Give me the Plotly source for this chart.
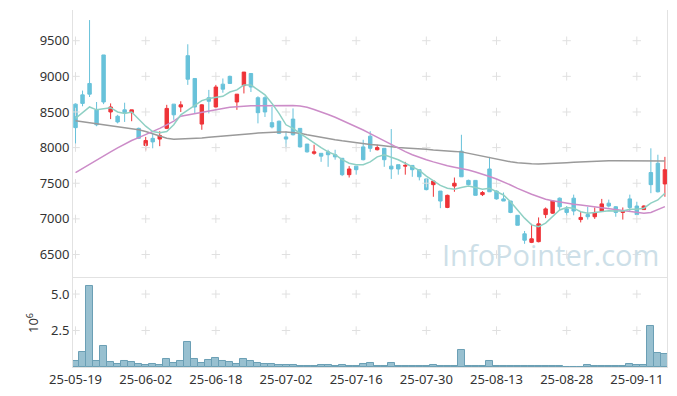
import plotly.graph_objects as go

dates = [
    "2025-05-19","2025-05-20","2025-05-21","2025-05-22","2025-05-23","2025-05-26","2025-05-27","2025-05-28","2025-05-29","2025-05-30",
    "2025-06-02","2025-06-04","2025-06-05","2025-06-09","2025-06-10","2025-06-11","2025-06-12","2025-06-13","2025-06-16","2025-06-17",
    "2025-06-18","2025-06-19","2025-06-20","2025-06-23","2025-06-24","2025-06-25","2025-06-26","2025-06-27","2025-06-30","2025-07-01",
    "2025-07-02","2025-07-03","2025-07-04","2025-07-07","2025-07-08","2025-07-09","2025-07-10","2025-07-11","2025-07-14","2025-07-15",
    "2025-07-16","2025-07-17","2025-07-18","2025-07-21","2025-07-22","2025-07-23","2025-07-24","2025-07-25","2025-07-28","2025-07-29",
    "2025-07-30","2025-07-31","2025-08-01","2025-08-04","2025-08-05","2025-08-06","2025-08-07","2025-08-08","2025-08-11","2025-08-12",
    "2025-08-13","2025-08-14","2025-08-18","2025-08-19","2025-08-20","2025-08-21","2025-08-22","2025-08-25","2025-08-26","2025-08-27",
    "2025-08-28","2025-08-29","2025-09-01","2025-09-02","2025-09-03","2025-09-04","2025-09-05","2025-09-08","2025-09-09","2025-09-10",
    "2025-09-11","2025-09-12","2025-09-15","2025-09-16","2025-09-17",
]

open_ = [8610,8740,8900,8530,9300,8500,8440,8530,8490,8270,
         8030,8130,8120,8270,8610,8570,9290,8970,8330,8700,
         8570,8890,9000,8640,8870,9040,8700,8700,8350,8370,
         8150,8400,8270,8050,7920,7920,7940,7900,7850,7620,
         7740,8010,8160,7970,7990,7740,7760,7740,7750,7690,
         7560,7480,7390,7160,7460,7950,7540,7540,7340,7700,
         7390,7280,7250,7050,6790,6670,6680,7060,7080,7290,
         7140,7290,6990,7060,7030,7110,7220,7170,7090,7280,
         7180,7130,7650,7780,7490]
high_ = [8620,8800,9790,8640,9300,8620,8460,8630,8530,8280,
         8150,8200,8230,8600,8610,8650,9450,8970,8610,8810,
         8880,8970,9010,8750,9060,9040,8720,8720,8570,8380,
         8230,8550,8270,8050,8040,7920,7970,7970,7850,7740,
         7740,8110,8230,8040,7990,8260,7760,7800,7750,7690,
         7560,7530,7390,7340,7580,8180,7550,7540,7390,7870,
         7400,7370,7250,7050,6830,6930,7020,7160,7260,7300,
         7180,7340,7100,7170,7160,7280,7270,7180,7160,7340,
         7240,7190,7990,7900,7870]
low_ = [8020,8580,8710,8300,8610,8400,8340,8360,8370,8120,
        7960,7990,8020,8260,8390,8500,8880,8480,8250,8480,
        8560,8770,8900,8530,8760,8780,8340,8430,8270,8190,
        7990,8170,8000,7930,7900,7800,7730,7830,7600,7580,
        7620,7820,7940,7960,7730,7560,7620,7620,7590,7540,
        7400,7310,7150,7150,7380,7590,7470,7330,7320,7380,
        7270,7250,7080,6910,6650,6660,6670,7010,7070,7120,
        7040,7050,6950,6990,7000,7100,7160,7030,6990,7100,
        7060,7130,7360,7370,7310]
close_ = [8280,8620,8750,8320,8640,8570,8360,8490,8530,8130,
          8100,8080,8170,8550,8460,8600,8960,8570,8600,8650,
          8850,8820,8900,8750,9060,8850,8490,8500,8290,8200,
          8120,8180,8010,7940,7940,7880,7900,7870,7620,7700,
          7690,7830,7990,8000,7830,7700,7700,7750,7690,7590,
          7410,7530,7250,7330,7500,7590,7480,7330,7370,7380,
          7280,7250,7090,6910,6700,6720,6930,7140,7250,7170,
          7090,7110,7020,7030,7090,7210,7180,7090,7110,7160,
          7060,7180,7480,7380,7690]

ma5 = [8410,8490,8570,8530,8540,8560,8500,8480,8500,8400,
       8300,8225,8210,8225,8320,8460,8530,8600,8660,8690,
       8710,8720,8780,8810,8880,8880,8810,8740,8620,8480,
       8320,8270,8200,8130,8060,8000,7940,7900,7830,7780,
       7760,7760,7800,7870,7900,7870,7830,7780,7730,7680,
       7600,7530,7470,7430,7415,7440,7460,7440,7415,7430,
       7380,7335,7240,7125,7010,6915,6890,6940,7030,7125,
       7160,7150,7100,7080,7090,7100,7115,7110,7110,7135,
       7135,7150,7220,7265,7360]
ma20 = [7650,7710,7770,7830,7885,7940,7995,8050,8100,8140,
        8180,8225,8270,8320,8370,8440,8460,8480,8500,8520,
        8540,8550,8565,8575,8585,8586,8587,8589,8590,8592,
        8592,8590,8585,8566,8535,8504,8465,8425,8383,8341,
        8294,8247,8196,8145,8090,8037,7990,7943,7900,7862,
        7830,7800,7770,7745,7725,7709,7685,7658,7630,7595,
        7560,7522,7475,7428,7382,7345,7310,7275,7255,7235,
        7219,7205,7193,7181,7167,7153,7139,7126,7113,7101,
        7090,7079,7090,7125,7171]
ma60 = [8378,8365,8350,8335,8322,8310,8295,8285,8268,8250,
        8225,8190,8160,8130,8118,8120,8125,8125,8135,8145,
        8155,8163,8170,8175,8185,8195,8205,8212,8218,8220,
        8218,8212,8200,8180,8160,8140,8125,8110,8095,8080,
        8065,8055,8045,8035,8020,8005,8000,7995,7992,7988,
        7978,7968,7958,7952,7947,7940,7920,7900,7878,7855,
        7835,7815,7800,7788,7778,7772,7770,7772,7776,7782,
        7788,7794,7800,7806,7812,7816,7816,7815,7814,7813,
        7812,7812,7812,7812,7812]

volume_m = [0.43,1.03,5.57,0.43,1.44,0.36,0.20,0.43,0.36,0.23,
            0.16,0.23,0.16,0.55,0.30,0.43,1.73,0.55,0.30,0.50,
            0.62,0.43,0.36,0.23,0.55,0.43,0.27,0.20,0.20,0.14,
            0.14,0.14,0.07,0.07,0.07,0.14,0.14,0.07,0.14,0.07,
            0.07,0.20,0.27,0.07,0.07,0.27,0.05,0.05,0.05,0.05,
            0.05,0.14,0.05,0.05,0.05,1.16,0.04,0.04,0.04,0.43,
            0.04,0.04,0.04,0.04,0.04,0.04,0.04,0.04,0.04,0.04,
            0.0,0.03,0.03,0.12,0.04,0.04,0.04,0.04,0.04,0.20,
            0.15,0.15,2.80,0.96,0.89]

price_ticks = [6500, 7000, 7500, 8000, 8500, 9000, 9500]
vol_ticks = [2.5, 5.0]
tick_every = 10

x_ticks = dates[::tick_every]
x_ticktext = [d[2:] for d in x_ticks]

UP = "#ee3338"
DOWN = "#68c2da"
GRID = "#e0e0e0"
FONT = "Noto Sans"

fig = go.Figure()

# grid crosses
gx, gy = [], []
for xv in x_ticks:
    for yv in price_ticks:
        gx.append(xv); gy.append(yv)
fig.add_trace(go.Scatter(x=gx, y=gy, mode="markers", xaxis="x", yaxis="y",
                         marker=dict(symbol="cross-thin", size=6, line=dict(color=GRID, width=1)),
                         hoverinfo="skip"))
vx, vy = [], []
for xv in x_ticks:
    for yv in vol_ticks:
        vx.append(xv); vy.append(yv * 1e6)
fig.add_trace(go.Scatter(x=vx, y=vy, mode="markers", xaxis="x", yaxis="y2",
                         marker=dict(symbol="cross-thin", size=6, line=dict(color=GRID, width=1)),
                         hoverinfo="skip"))

fig.add_trace(go.Scatter(x=dates, y=ma60, mode="lines", line=dict(color="#9a9a9a", width=1.5),
                         xaxis="x", yaxis="y"))
fig.add_trace(go.Scatter(x=dates, y=ma20, mode="lines", line=dict(color="#cc8cc8", width=1.5),
                         xaxis="x", yaxis="y"))

fig.add_trace(go.Candlestick(
    x=dates, open=open_, high=high_, low=low_, close=close_, xaxis="x", yaxis="y",
    increasing=dict(line=dict(color=UP, width=1), fillcolor=UP),
    decreasing=dict(line=dict(color=DOWN, width=1), fillcolor=DOWN),
    whiskerwidth=0))

fig.add_trace(go.Scatter(x=dates, y=ma5, mode="lines", line=dict(color="#8fd0c4", width=1.5),
                         xaxis="x", yaxis="y"))

fig.add_trace(go.Bar(x=dates, y=[v * 1e6 for v in volume_m], xaxis="x", yaxis="y2",
                     marker=dict(color="#98c0d0", line=dict(color="#6b9fb5", width=1))))

# page body has an 8px default margin; compensate so the plot area lands at x 73..667, y 10..367
fig.update_layout(
    width=677, height=396,
    margin=dict(l=65, r=18, t=2, b=37, autoexpand=False),
    paper_bgcolor="white", plot_bgcolor="white",
    showlegend=False, bargap=0,
    font=dict(family=FONT, size=13, color="#333"),
    xaxis=dict(type="category", categoryorder="array", categoryarray=dates,
               anchor="y2", range=[-0.36, 84.3], automargin=False,
               tickvals=x_ticks, ticktext=x_ticktext, ticks="", tickangle=0,
               showgrid=False, zeroline=False, rangeslider=dict(visible=False),
               showline=True, mirror=True, linecolor="#e2e2e2", linewidth=1,
               tickfont=dict(size=13, color="#333")),
    yaxis=dict(domain=[0.2493, 1], range=[6170, 9931], tickvals=price_ticks, automargin=False,
               ticks="", showgrid=False, zeroline=False,
               showline=True, mirror=True, linecolor="#e2e2e2", linewidth=1,
               tickfont=dict(size=13, color="#333")),
    yaxis2=dict(domain=[0, 0.2493], range=[0, 6.1e6], automargin=False,
                tickvals=[v * 1e6 for v in vol_ticks], ticktext=["%.1f" % v for v in vol_ticks],
                ticks="", showgrid=False, zeroline=False,
                showline=True, mirror=True, linecolor="#e2e2e2", linewidth=1,
                tickfont=dict(size=13, color="#333")),
    annotations=[
        dict(text="InfoPointer.com", xref="paper", yref="paper",
             x=(550 - 73) / 594, y=(367 - 254) / 357, xanchor="center", yanchor="middle",
             showarrow=False, font=dict(family="Open Sans", size=29, color="#cddfe8")),
        dict(text="10<sup>6</sup>", xref="paper", yref="paper",
             x=(32 - 73) / 594, y=(367 - 323) / 357, xanchor="center", yanchor="middle",
             textangle=-90, showarrow=False, font=dict(family=FONT, size=13, color="#333")),
    ],
)

fig.write_html("out.html")
